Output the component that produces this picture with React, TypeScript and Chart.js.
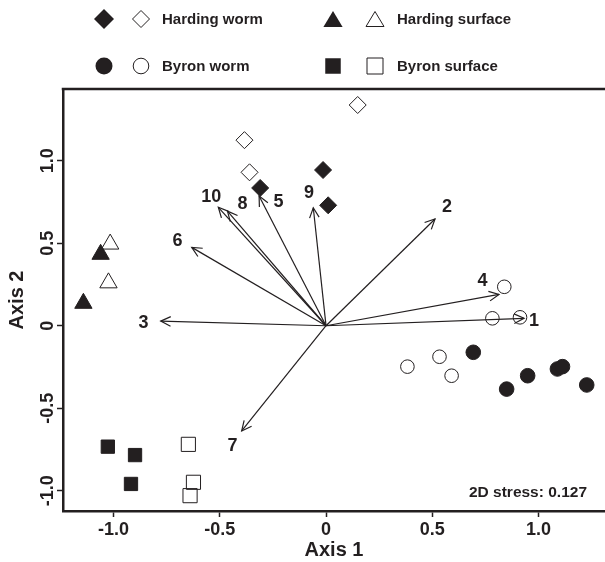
import React, { useEffect, useRef } from "react";
import { Chart, registerables } from "chart.js";

Chart.register(...registerables);

const INK = "#231f20";
const FONT = "'Liberation Sans', Arial, Helvetica, sans-serif";

// ---- data ----
const xTicks = [-1, -0.5, 0, 0.5, 1];
const yTicks = [-1, -0.5, 0, 0.5, 1];

const hardingWormFilled = [
  { x: -0.31, y: 0.835 },
  { x: -0.014, y: 0.944 },
  { x: 0.01, y: 0.73 },
];
const hardingWormOpen = [
  { x: -0.384, y: 1.125 },
  { x: -0.36, y: 0.93 },
  { x: 0.149, y: 1.338 },
];
const hardingSurfaceFilled = [
  { x: -1.061, y: 0.433 },
  { x: -1.142, y: 0.136 },
];
const hardingSurfaceOpen = [
  { x: -1.016, y: 0.495 },
  { x: -1.024, y: 0.26 },
];
const byronWormFilled = [
  { x: 0.693, y: -0.161 },
  { x: 0.85, y: -0.384 },
  { x: 0.949, y: -0.303 },
  { x: 1.089, y: -0.262 },
  { x: 1.113, y: -0.248 },
  { x: 1.227, y: -0.359 },
];
const byronWormOpen = [
  { x: 0.839, y: 0.236 },
  { x: 0.783, y: 0.045 },
  { x: 0.913, y: 0.051 },
  { x: 0.383, y: -0.248 },
  { x: 0.534, y: -0.188 },
  { x: 0.591, y: -0.303 },
];
const byronSurfaceFilled = [
  { x: -1.027, y: -0.733 },
  { x: -0.899, y: -0.784 },
  { x: -0.918, y: -0.959 },
];
const byronSurfaceOpen = [
  { x: -0.648, y: -0.719 },
  { x: -0.624, y: -0.949 },
  { x: -0.64, y: -1.03 },
];

const arrowNames = ["1", "2", "3", "4", "5", "6", "7", "8", "9", "10"];
const arrowTipX = [0.932, 0.513, -0.778, 0.814, -0.315, -0.632, -0.397, -0.464, -0.06, -0.507];
const arrowTipY = [0.045, 0.647, 0.028, 0.19, 0.786, 0.475, -0.638, 0.695, 0.715, 0.718];
const arrowLabelX = [0.979, 0.569, -0.859, 0.736, -0.224, -0.699, -0.44, -0.393, -0.08, -0.54];
const arrowLabelY = [0.035, 0.73, 0.028, 0.28, 0.759, 0.525, -0.721, 0.75, 0.813, 0.792];

const legendNames = ["Harding worm", "Harding surface", "Byron worm", "Byron surface"];
const legendShapes = ["diamond", "triangle", "circle", "square"];
const stressText = "2D stress: 0.127";

// ---- drawing helpers ----
function shapePath(ctx: CanvasRenderingContext2D, shape: string, cx: number, cy: number, s: number) {
  ctx.beginPath();
  if (shape === "diamond") {
    ctx.moveTo(cx, cy - s);
    ctx.lineTo(cx + s, cy);
    ctx.lineTo(cx, cy + s);
    ctx.lineTo(cx - s, cy);
    ctx.closePath();
  } else if (shape === "triangle") {
    const w = s * 1.2;
    const h = s;
    ctx.moveTo(cx, cy - h / 2);
    ctx.lineTo(cx + w / 2, cy + h / 2);
    ctx.lineTo(cx - w / 2, cy + h / 2);
    ctx.closePath();
  } else if (shape === "circle") {
    ctx.arc(cx, cy, s, 0, Math.PI * 2);
  } else {
    ctx.rect(cx - s / 2, cy - s / 2, s, s);
  }
}

const legendSizes: Record<string, [number, number]> = {
  diamond: [10, 8.5],
  triangle: [16, 15],
  circle: [8.5, 7.8],
  square: [15.5, 16],
};

const overlayPlugin = {
  id: "overlay",
  afterDatasetsDraw(chart: any) {
    const { ctx, chartArea, scales } = chart;
    const xs = scales.x;
    const ys = scales.y;
    ctx.save();
    ctx.strokeStyle = INK;
    ctx.fillStyle = INK;
    ctx.lineWidth = 1.2;
    const ox = xs.getPixelForValue(0);
    const oy = ys.getPixelForValue(0);
    for (let i = 0; i < arrowNames.length; i++) {
      const tx = xs.getPixelForValue(arrowTipX[i]);
      const ty = ys.getPixelForValue(arrowTipY[i]);
      ctx.beginPath();
      ctx.moveTo(ox, oy);
      ctx.lineTo(tx, ty);
      ctx.stroke();
      const a = Math.atan2(ty - oy, tx - ox);
      const L = 11;
      const sp = 0.45;
      ctx.beginPath();
      ctx.moveTo(tx - L * Math.cos(a - sp), ty - L * Math.sin(a - sp));
      ctx.lineTo(tx, ty);
      ctx.lineTo(tx - L * Math.cos(a + sp), ty - L * Math.sin(a + sp));
      ctx.stroke();
    }
    ctx.font = `bold 18px ${FONT}`;
    ctx.textAlign = "center";
    ctx.textBaseline = "alphabetic";
    for (let i = 0; i < arrowNames.length; i++) {
      const lx = xs.getPixelForValue(arrowLabelX[i]);
      const ly = ys.getPixelForValue(arrowLabelY[i]);
      ctx.fillText(arrowNames[i], lx, ly + 6.5);
    }
    // stress annotation
    ctx.font = `bold 15.5px ${FONT}`;
    ctx.textAlign = "right";
    ctx.fillText(stressText, chartArea.right - 18, chartArea.bottom - 14);
    ctx.restore();
  },
  afterDraw(chart: any) {
    const { ctx, chartArea, scales } = chart;
    const ys = scales.y;
    ctx.save();
    // top frame line
    ctx.strokeStyle = INK;
    ctx.lineWidth = 2.5;
    ctx.beginPath();
    ctx.moveTo(chartArea.left - 1.25, chartArea.top);
    ctx.lineTo(chartArea.right, chartArea.top);
    ctx.stroke();
    // rotated y tick labels
    ctx.fillStyle = INK;
    ctx.font = `bold 18px ${FONT}`;
    ctx.textAlign = "center";
    ctx.textBaseline = "alphabetic";
    for (const t of ys.ticks) {
      const py = ys.getPixelForValue(t.value);
      ctx.save();
      ctx.translate(52.5, py);
      ctx.rotate(-Math.PI / 2);
      ctx.fillText(t.value === 0 ? "0" : t.value.toFixed(1), 0, 0);
      ctx.restore();
    }
    // legend
    const colMarkers = [
      [104, 141, 162],
      [333, 375, 397],
    ];
    const rowY = [19, 66];
    ctx.font = `bold 15px ${FONT}`;
    ctx.textAlign = "left";
    for (let i = 0; i < legendNames.length; i++) {
      const col = i % 2;
      const row = Math.floor(i / 2);
      const shape = legendShapes[i];
      const [fs, os] = legendSizes[shape];
      const cy = rowY[row];
      const [fx, ox, tx] = colMarkers[col];
      shapePath(ctx, shape, fx, cy, fs);
      ctx.fillStyle = INK;
      ctx.fill();
      shapePath(ctx, shape, ox, cy, os);
      ctx.fillStyle = "#ffffff";
      ctx.fill();
      ctx.strokeStyle = INK;
      ctx.lineWidth = 1;
      ctx.stroke();
      ctx.fillStyle = INK;
      ctx.fillText(legendNames[i], tx, cy + 5.3);
    }
    ctx.restore();
  },
};

function ds(data: any[], style: string, radius: number, filled: boolean) {
  return {
    data,
    pointStyle: style,
    pointRadius: radius,
    pointHoverRadius: radius,
    pointBackgroundColor: filled ? INK : "rgba(255,255,255,0)",
    pointBorderColor: INK,
    pointBorderWidth: 1,
    showLine: false,
  };
}

export default function App() {
  const ref = useRef<HTMLCanvasElement | null>(null);
  useEffect(() => {
    document.body.style.margin = "0";
    const canvas = ref.current;
    if (!canvas) return;
    Chart.defaults.font.family = FONT;
    const chart = new Chart(canvas, {
      type: "scatter",
      data: {
        datasets: [
          ds(hardingWormOpen, "rectRot", 8.5, false),
          ds(hardingWormFilled, "rectRot", 8.5, true),
          ds(hardingSurfaceOpen, "triangle", 10, false),
          ds(hardingSurfaceFilled, "triangle", 10, true),
          ds(byronWormOpen, "circle", 6.8, false),
          ds(byronWormFilled, "circle", 7.3, true),
          ds(byronSurfaceOpen, "rect", 10, false),
          ds(byronSurfaceFilled, "rect", 9.4, true),
        ] as any,
      },
      options: {
        animation: false,
        responsive: false,
        events: [],
        layout: { autoPadding: false, padding: { top: 89, left: 0, right: 0, bottom: 0 } },
        plugins: { legend: { display: false }, tooltip: { enabled: false } },
        scales: {
          x: {
            type: "linear",
            min: -1.238,
            max: 1.313,
            afterBuildTicks: (s: any) => {
              s.ticks = xTicks.map((v) => ({ value: v }));
            },
            afterFit: (s: any) => {
              s.height = 51;
              s.paddingLeft = 0;
              s.paddingRight = 0;
              s.paddingTop = 0;
              s.paddingBottom = 0;
            },
            border: { display: true, color: INK, width: 2.5 },
            grid: {
              drawOnChartArea: false,
              drawTicks: true,
              tickLength: 6,
              tickColor: INK,
              tickWidth: 1.5,
            },
            ticks: {
              autoSkip: false,
              maxRotation: 0,
              minRotation: 0,
              padding: 2,
              color: INK,
              font: { size: 18, weight: "bold", family: FONT },
              callback: (v: any) => (v === 0 ? "0" : Number(v).toFixed(1)),
            },
            title: {
              display: true,
              text: "Axis 1",
              color: INK,
              font: { size: 20, weight: "bold", family: FONT },
              padding: { top: 0, bottom: 0 },
            },
          },
          y: {
            type: "linear",
            min: -1.123,
            max: 1.435,
            afterBuildTicks: (s: any) => {
              s.ticks = yTicks.map((v) => ({ value: v }));
            },
            afterFit: (s: any) => {
              s.width = 63;
              s.paddingLeft = 0;
              s.paddingRight = 0;
              s.paddingTop = 0;
              s.paddingBottom = 0;
            },
            border: { display: true, color: INK, width: 2.5 },
            grid: {
              drawOnChartArea: false,
              drawTicks: true,
              tickLength: 6,
              tickColor: INK,
              tickWidth: 1.5,
            },
            ticks: { display: false },
            title: {
              display: true,
              text: "Axis 2",
              color: INK,
              font: { size: 20, weight: "bold", family: FONT },
              padding: { top: 5, bottom: 0 },
            },
          },
        },
      } as any,
      plugins: [overlayPlugin],
    });
    return () => chart.destroy();
  }, []);
  return <canvas ref={ref} width={605} height={562} style={{ display: "block" }} />;
}
